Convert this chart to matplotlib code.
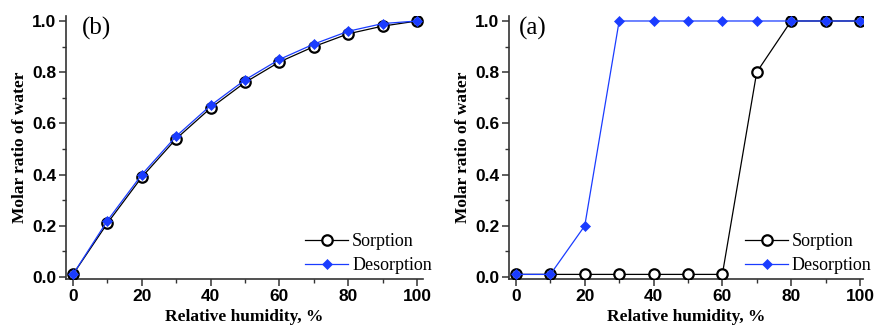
import matplotlib
matplotlib.use("Agg")
import matplotlib.pyplot as plt
from matplotlib.ticker import MultipleLocator

# data
humidity = [0, 10, 20, 30, 40, 50, 60, 70, 80, 90, 100]

b_sorption = [0.01, 0.21, 0.39, 0.54, 0.66, 0.76, 0.84, 0.90, 0.95, 0.98, 1.00]
b_desorption = [0.01, 0.22, 0.40, 0.55, 0.67, 0.77, 0.85, 0.91, 0.96, 0.99, 1.00]

a_sorption = [0.01, 0.01, 0.01, 0.01, 0.01, 0.01, 0.01, 0.80, 1.00, 1.00, 1.00]
a_desorption = [0.01, 0.01, 0.20, 1.00, 1.00, 1.00, 1.00, 1.00, 1.00, 1.00, 1.00]

# label, series, axes left/right in px, xlim, panel label x (axes fraction)
panels = [
    ("(b)", b_sorption, b_desorption, [66, 423], (-2.03, 101.7), 0.045),
    ("(a)", a_sorption, a_desorption, [509, 863], (-2.03, 100.9), 0.028),
]

W, H = 874, 325
BLUE = "#1a3cff"
SERIF = "Liberation Serif"
SANS = "Liberation Sans"

fig = plt.figure(figsize=(W / 100, H / 100), dpi=100)

for label, sorp, desorp, (x0, x1), xlim, lx in panels:
    top, bottom = 16, 279
    ax = fig.add_axes([x0 / W, 1 - bottom / H, (x1 - x0) / W, (bottom - top) / H])

    ax.plot(humidity, sorp, color="black", lw=0.9, marker="o", ms=7.5,
            mfc="white", mec="black", mew=1.6, label="Sorption", zorder=3)
    ax.plot(humidity, desorp, color=BLUE, lw=0.9, marker="D", ms=5,
            mfc=BLUE, mec=BLUE, mew=0.5, label="Desorption", zorder=4)

    ax.set_xlim(*xlim)
    ax.set_ylim(-0.008, 1.0195)
    ax.xaxis.set_major_locator(MultipleLocator(20))
    ax.xaxis.set_minor_locator(MultipleLocator(10))
    ax.yaxis.set_major_locator(MultipleLocator(0.2))
    ax.yaxis.set_minor_locator(MultipleLocator(0.1))
    ax.yaxis.set_major_formatter(plt.FuncFormatter(lambda v, p: f"{v:.1f}"))

    for side in ["top", "right"]:
        ax.spines[side].set_visible(False)
    for side in ["left", "bottom"]:
        ax.spines[side].set_linewidth(1.2)
        ax.spines[side].set_color("#333333")

    ax.tick_params(which="major", direction="out", length=5, width=1.1,
                   color="#333333", pad=2)
    ax.tick_params(which="minor", direction="out", length=3, width=1.0,
                   color="#333333")
    for t in ax.get_xticklabels() + ax.get_yticklabels():
        t.set_fontfamily(SANS)
        t.set_fontweight("bold")
        t.set_fontsize(12.5)

    ax.set_xlabel("Relative humidity, %", fontfamily=SERIF, fontweight="bold",
                  fontsize=12.5, labelpad=4)
    ax.set_ylabel("Molar ratio of water", fontfamily=SERIF, fontweight="bold",
                  fontsize=12.5, labelpad=3)

    ax.text(lx, 0.995, label, transform=ax.transAxes, fontfamily=SERIF,
            fontsize=18, va="top", ha="left")

    ax.legend(loc="lower right", frameon=False, prop={"family": SERIF, "size": 13},
              handlelength=2.4, handletextpad=0.2, labelspacing=0.4,
              borderaxespad=0.0, bbox_to_anchor=(1.045, -0.01))

fig.savefig("out.png", dpi=100)
